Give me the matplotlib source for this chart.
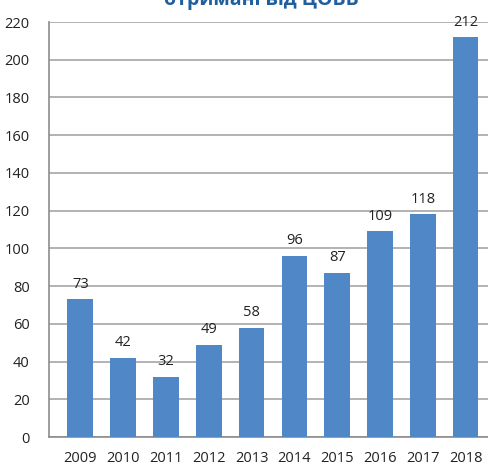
import matplotlib
matplotlib.use("Agg")
import matplotlib.pyplot as plt

years = ["2009", "2010", "2011", "2012", "2013", "2014", "2015", "2016", "2017", "2018"]
values = [73, 42, 32, 49, 58, 96, 87, 109, 118, 212]
yticks = [0, 20, 40, 60, 80, 100, 120, 140, 160, 180, 200, 220]
title = "отримані від ЦОВВ"

plt.rcParams['font.family'] = ['Open Sans', 'DejaVu Sans']

fig = plt.figure(figsize=(4.88, 4.65), dpi=100)
ax = fig.add_axes([49/488, 1 - 437/465, 1 - 49/488 + 0.02, (437 - 22)/465])

x = range(len(years))
ax.bar(x, values, width=0.6, color='#4F87C7', zorder=3)
for xi, v in zip(x, values):
    ax.text(xi, v + 4, str(v), ha='center', va='bottom', fontsize=10.5, color='#222222', zorder=4)

ax.set_ylim(0, 220)
ax.set_xlim(-0.73, 9.75)
ax.set_yticks(yticks)
ax.set_xticks(list(x))
ax.set_xticklabels(years)
ax.yaxis.grid(True, color='#A6A6A6', linewidth=1.2, zorder=0)
ax.tick_params(axis='y', length=0, pad=14, labelsize=10.5, colors='#222222')
ax.tick_params(axis='x', length=0, pad=10, labelsize=10.5, colors='#222222')
for s in ['top', 'right']:
    ax.spines[s].set_visible(False)
for s in ['left', 'bottom']:
    ax.spines[s].set_color('#8C8C8C')
    ax.spines[s].set_linewidth(1.2)

fig.text(0.536, 1 - 5/465, title, ha='center', va='baseline', fontsize=14,
         fontweight='bold', color='#1F5FA0')

fig.savefig("out.png", dpi=100)
